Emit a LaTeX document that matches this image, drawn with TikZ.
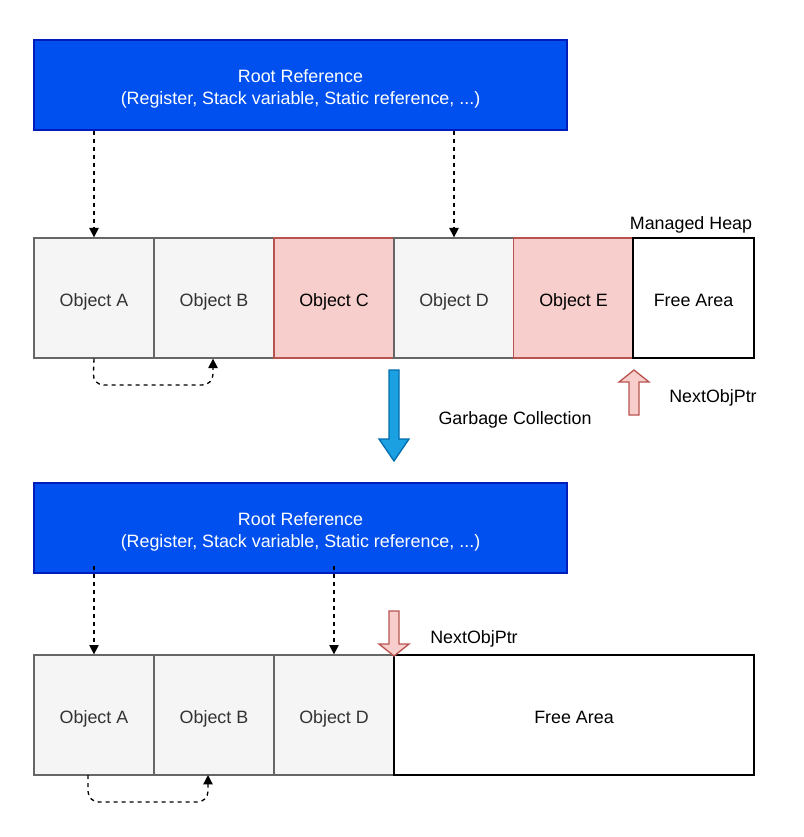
\documentclass[tikz,border=0pt]{standalone}
\usepackage{fontspec}
\setmainfont{Liberation Sans}
\usetikzlibrary{arrows.meta,calc}
\definecolor{rootfill}{HTML}{0050EF}
\definecolor{rootline}{HTML}{001DBC}
\definecolor{grayfill}{HTML}{F5F5F5}
\definecolor{grayline}{HTML}{666666}
\definecolor{graytext}{HTML}{333333}
\definecolor{pinkfill}{HTML}{F8CECC}
\definecolor{pinkline}{HTML}{B85450}
\definecolor{gcfill}{HTML}{1BA1E2}
\definecolor{gcline}{HTML}{006EAF}
\newcommand\rootstrut{\rule{0pt}{15pt}}
\tikzset{
  root/.style={draw=rootline,fill=rootfill,text=white,line width=1pt,minimum width=399.75pt,minimum height=67.5pt,inner sep=0pt,align=center},
  cell/.style={draw=grayline,fill=grayfill,text=graytext,line width=1pt,minimum width=90pt,minimum height=90pt,inner sep=0pt,text height=16pt,text depth=3pt},
  deadcell/.style={cell,draw=pinkline,fill=pinkfill,text=black},
  freecell/.style={draw=black,fill=white,line width=1pt,minimum height=90pt,inner sep=0pt,text height=16pt,text depth=3pt},
  ref/.style={dashed,line width=1pt,-{Triangle[length=7pt,width=7pt]}},
  label/.style={inner sep=0pt}
}
\begin{document}
\begin{tikzpicture}[x=0.75pt,y=-0.75pt,font=\fontsize{13.4}{16.5}\selectfont]
\useasboundingbox (0,0) rectangle (803,837);
% before collection
\node[root] (root1) at (300.5,85) {\rootstrut Root Reference\\(Register, Stack variable, Static reference, ...)};
\node[cell] (a1) at (94,298) {Object A};
\node[cell] (b1) at (214,298) {Object B};
\node[deadcell] (c1) at (334,298) {Object C};
\node[cell] (d1) at (454,298) {Object D};
\node[deadcell] (e1) at (573.5,298) {Object E};
\node[freecell,minimum width=90.75pt] (free1) at (693.5,298) {Free Area};
\node[label] (heap) at (691,225) {Managed Heap};
\draw[ref] (root1.south -| a1) -- (a1.north);
\draw[ref] (root1.south -| d1) -- (d1.north);
\draw[ref,rounded corners=8] (a1.south) -- (93,385) -- (213,385) -- (b1.south -| 213,0);
% collection arrow
\draw[draw=gcline,fill=gcfill,line width=1pt] (389,370) -- (399,370) -- (399,439) -- (409,439) -- (394,461) -- (379,439) -- (389,439) -- cycle;
\node[label] (gc) at (515,420) {Garbage Collection};
\draw[draw=pinkline,fill=pinkfill,line width=1pt] (629,415) -- (639,415) -- (639,382) -- (649,382) -- (634,370) -- (619,382) -- (629,382) -- cycle;
\node[label] (ptr1) at (713,398) {NextObjPtr};
% after collection
\node[root] (root2) at (300.5,528) {\rootstrut Root Reference\\(Register, Stack variable, Static reference, ...)};
\node[cell] (a2) at (94,715) {Object A};
\node[cell] (b2) at (214,715) {Object B};
\node[cell] (d2) at (334,715) {Object D};
\node[freecell,minimum width=270pt] (free2) at (574,715) {Free Area};
\draw[ref] ($(root2.south -| a2)+(0,-8)$) -- (a2.north);
\draw[ref] ($(root2.south -| d2)+(0,-8)$) -- (d2.north);
\draw[ref,rounded corners=8] (88,775) -- (88,802) -- (208,802) -- (208,775);
\draw[draw=pinkline,fill=pinkfill,line width=1pt] (389,611) -- (399,611) -- (399,644) -- (409,644) -- (394,656) -- (379,644) -- (389,644) -- cycle;
\node[label] (ptr2) at (474,639) {NextObjPtr};
\end{tikzpicture}
\end{document}
